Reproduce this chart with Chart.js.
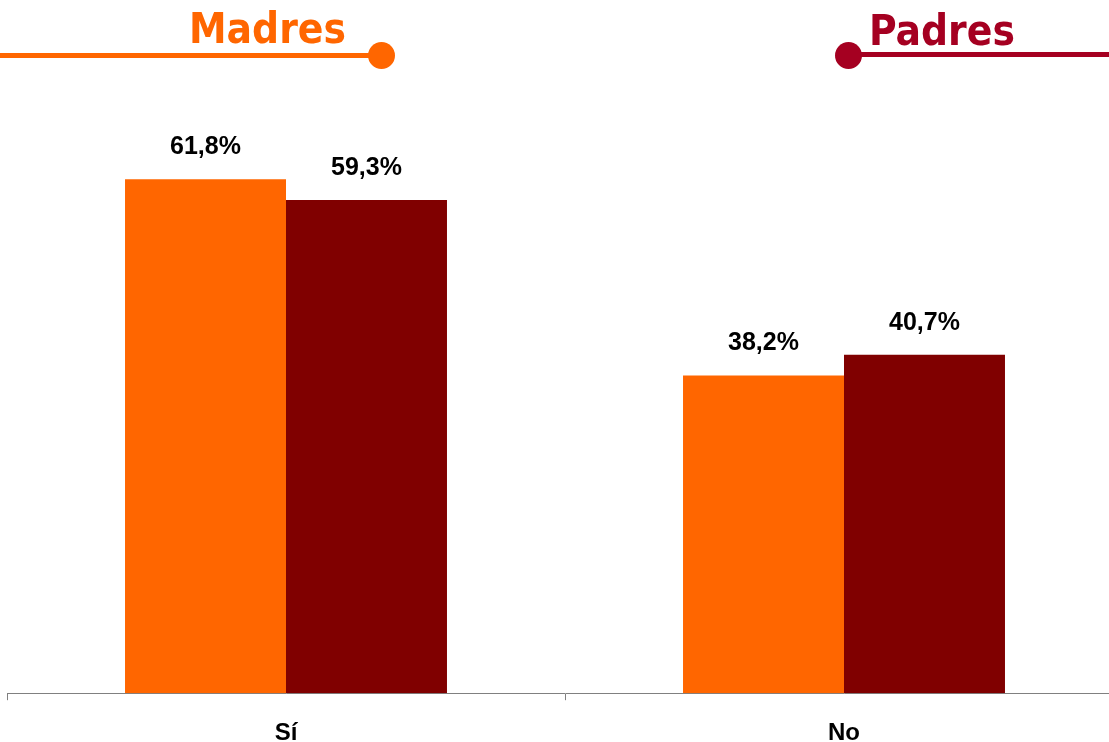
<!DOCTYPE html>
<html>
<head>
<meta charset="utf-8">
<script src="https://cdn.jsdelivr.net/npm/chart.js@4/dist/chart.umd.min.js"></script>
<style>
  html, body { margin: 0; padding: 0; background: #fff; overflow: hidden; }
  #wrap { position: relative; width: 1109px; height: 742px; overflow: hidden; }
  #chart-box { position: absolute; left: 0; top: 0; width: 1134px; height: 767px; }
  .head { position: absolute; font-family: 'DejaVu Sans', Verdana, sans-serif; font-weight: bold;
          font-stretch: condensed; font-size: 42px; line-height: 1; white-space: nowrap; }
  .rule { position: absolute; height: 5px; }
  .dot { position: absolute; width: 27px; height: 27px; border-radius: 50%; }
</style>
</head>
<body>
<div id="wrap">
  <div id="chart-box"><canvas id="chart"></canvas></div>

  <div class="head" style="left:189px; top:8px; color:#FF6600;">Madres</div>
  <div class="rule" style="left:0; top:53px; width:382px; background:#FF6600;"></div>
  <div class="dot" style="left:368px; top:42px; background:#FF6600;"></div>

  <div class="head" style="left:869px; top:10px; color:#A50021;">Padres</div>
  <div class="rule" style="left:849px; top:52px; width:270px; background:#A50021;"></div>
  <div class="dot" style="left:835px; top:42px; background:#A50021;"></div>
</div>

<script>
"use strict";

// categories and series
var categories = ['Sí', 'No'];
var madres = [61.8, 38.2];
var padres = [59.3, 40.7];
var seriesNames = ['Madres', 'Padres'];

// draws the "61,8%" style value above each bar
var valueLabels = {
	id: 'valueLabels',
	afterDatasetsDraw: function(chart) {
		var ctx = chart.ctx;
		ctx.save();
		ctx.font = "bold 25px 'Liberation Sans', Arial, sans-serif";
		ctx.fillStyle = '#000';
		ctx.textAlign = 'center';
		ctx.textBaseline = 'middle';
		chart.data.datasets.forEach(function(ds, i) {
			chart.getDatasetMeta(i).data.forEach(function(bar, j) {
				var txt = ds.data[j].toFixed(1).replace('.', ',') + '%';
				ctx.fillText(txt, bar.x, bar.y - 32);
			});
		});
		ctx.restore();
	}
};

var ctx = document.getElementById('chart').getContext('2d');
new Chart(ctx, {
	type: 'bar',
	data: {
		labels: categories,
		datasets: [{
			label: seriesNames[0],
			data: madres,
			backgroundColor: '#FF6600',
			categoryPercentage: 0.577,
			barPercentage: 1.0
		}, {
			label: seriesNames[1],
			data: padres,
			backgroundColor: '#800000',
			categoryPercentage: 0.577,
			barPercentage: 1.0
		}]
	},
	options: {
		responsive: true,
		maintainAspectRatio: false,
		animation: false,
		layout: {
			padding: { top: 111, left: 7, right: 11, bottom: 0 }
		},
		plugins: {
			legend: { display: false },
			tooltip: { enabled: false }
		},
		scales: {
			x: {
				offset: true,
				border: { display: true, color: '#808080', width: 1 },
				grid: {
					offset: true,
					drawOnChartArea: false,
					drawTicks: true,
					tickLength: 7,
					color: '#808080'
				},
				ticks: {
					color: '#000',
					padding: 19,
					font: { family: "'Liberation Sans', Arial, sans-serif", size: 24, weight: 'bold' }
				}
			},
			y: {
				display: false,
				min: 0,
				max: 70
			}
		}
	},
	plugins: [valueLabels]
});
</script>
</body>
</html>
